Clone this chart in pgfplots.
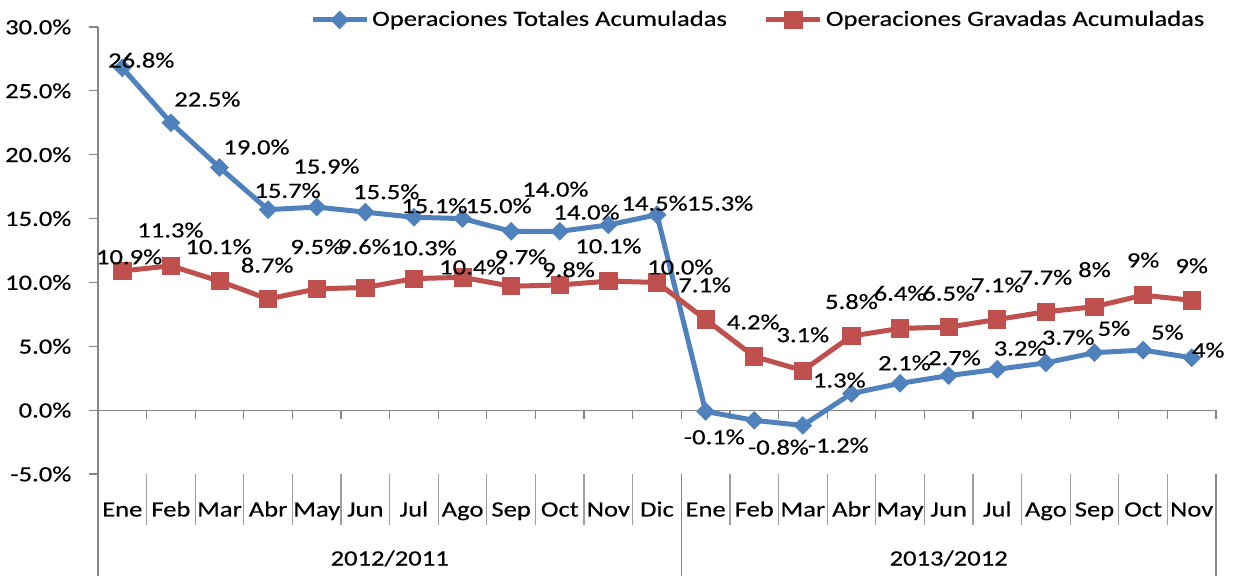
\documentclass[border=0pt]{standalone}
\usepackage{fontspec}
\setmainfont{Carlito}[FakeStretch=1.22, FakeBold=0.35]
\usepackage{pgfplots}
\pgfplotsset{compat=1.18}
\definecolor{sblue}{HTML}{4F81BD}
\definecolor{sred}{HTML}{C0504D}
\definecolor{axgray}{HTML}{868686}
\begin{document}
\fontsize{10.9pt}{12pt}\selectfont
\begin{tikzpicture}
\begin{axis}[
  name=ax,
  scale only axis,
  width=559pt, height=223.5pt,
  xmin=-0.5, xmax=22.5, ymin=-5, ymax=30,
  axis y line*=left,
  axis x line*=bottom,
  x axis line style={draw=none},
  y axis line style={axgray, line width=0.6pt, -},
  ytick={-5,0,5,10,15,20,25,30},
  yticklabels={-5.0\%,0.0\%,5.0\%,10.0\%,15.0\%,20.0\%,25.0\%,30.0\%},
  y tick style={axgray, line width=0.6pt},
  yticklabel style={anchor=east, xshift=-5pt},
  tick align=outside,
  major tick length=4.5pt,
  xtick={0,...,22},
  xticklabels={Ene,Feb,Mar,Abr,May,Jun,Jul,Ago,Sep,Oct,Nov,Dic,Ene,Feb,Mar,Abr,May,Jun,Jul,Ago,Sep,Oct,Nov},
  x tick style={draw=none},
  xticklabel style={anchor=base, yshift=-16.75pt},
  extra x ticks={5.5,17},
  extra x tick labels={2012/2011,2013/2012},
  extra x tick style={xticklabel style={yshift=-24.5pt}},
  clip=false,
  legend columns=2,
  legend style={at={(axis description cs:0.591,1.0157)}, anchor=center, draw=none, fill=none,
    inner sep=0pt, nodes={inner xsep=1.5pt, inner ysep=1pt},
    /tikz/every even column/.append style={column sep=17pt}},
  legend image code/.code={\draw[mark repeat=2,mark phase=2] plot coordinates {(0pt,0pt) (13.5pt,0pt) (27pt,0pt)};},
]
% axis decorations
\draw[axgray, line width=0.6pt] (axis cs:-0.5,0) -- (axis cs:22.5,0);
\pgfplotsinvokeforeach{0.5,1.5,...,22.5}{\draw[axgray, line width=0.6pt] (axis cs:#1,0) -- ([yshift=-4.5pt]axis cs:#1,0);}
\pgfplotsinvokeforeach{0.5,1.5,...,10.5,12.5,13.5,...,21.5}{\draw[axgray!80, line width=0.6pt] (axis cs:#1,-5) -- (axis cs:#1,-9);}
\draw[axgray, line width=0.6pt] (axis cs:-0.5,-5) -- (axis cs:-0.5,-13);
\draw[axgray, line width=0.6pt] (axis cs:11.5,-5) -- (axis cs:11.5,-13);
\draw[axgray, line width=0.6pt] (axis cs:22.5,-5) -- (axis cs:22.5,-13);

\addplot[sblue, line width=2.5pt, mark=square*, mark size=3.1pt,
  mark options={rotate=45, solid, fill=sblue, draw=sblue, line width=0.4pt}]
  table {
x y
0 26.8
1 22.5
2 19.0
3 15.7
4 15.9
5 15.5
6 15.1
7 15.0
8 14.0
9 14.0
10 14.5
11 15.3
12 -0.1
13 -0.8
14 -1.2
15 1.3
16 2.1
17 2.7
18 3.2
19 3.7
20 4.5
21 4.7
22 4.1
};
\addlegendentry{Operaciones Totales Acumuladas}

\addplot[sred, line width=2.5pt, mark=square*, mark size=4.3pt,
  mark options={solid, fill=sred, draw=sred, line width=0.4pt}]
  table {
x y
0 10.9
1 11.3
2 10.1
3 8.7
4 9.5
5 9.6
6 10.3
7 10.4
8 9.7
9 9.8
10 10.1
11 10.0
12 7.1
13 4.2
14 3.1
15 5.8
16 6.4
17 6.5
18 7.1
19 7.7
20 8.1
21 9.0
22 8.6
};
\addlegendentry{Operaciones Gravadas Acumuladas}

% data labels, blue series
\addplot[forget plot, only marks, mark=none, point meta=explicit symbolic,
  nodes near coords={\pgfplotspointmeta\%}, nodes near coords align=center,
  every node near coord/.append style={anchor=center, inner sep=0pt, text=black}]
  table[meta=l] {
x y l
0.39 27.4 26.8
1.75 24.35 22.5
2.76 20.6 19.0
3.40 17.2 15.7
4.2 19.1 15.9
5.43 17.1 15.5
6.42 16.0 15.1
7.74 16.0 15.0
8.91 17.3 14.0
9.55 15.5 14.0
10.95 16.2 14.5
12.3 16.2 15.3
12.18 -2.1 -0.1
13.5 -2.9 -0.8
14.73 -2.75 -1.2
14.75 2.35 1.3
16.09 3.7 2.1
17.12 4.1 2.7
18.47 4.85 3.2
19.46 5.7 3.7
20.4 6.4 5
21.5 6.1 5
22.34 4.7 4
};
% data labels, red series
\addplot[forget plot, only marks, mark=none, point meta=explicit symbolic,
  nodes near coords={\pgfplotspointmeta\%}, nodes near coords align=center,
  every node near coord/.append style={anchor=center, inner sep=0pt, text=black}]
  table[meta=l] {
x y l
0.14 12.0 10.9
0.99 14.1 11.3
1.98 12.8 10.1
2.98 11.35 8.7
4.0 12.8 9.5
4.98 12.8 9.6
6.2 12.7 10.3
7.2 11.2 10.4
8.2 12.0 9.7
9.18 11.0 9.8
10.0 12.85 10.1
11.48 11.2 10.0
11.98 9.8 7.1
12.98 6.9 4.2
14.0 5.9 3.1
15.0 8.5 5.8
16.0 9.15 6.4
17.0 9.15 6.5
18.0 9.8 7.1
19.0 10.4 7.7
20.0 11.0 8
21.0 11.75 9
22.0 11.3 9
};
\end{axis}
\pgfresetboundingbox
\path[use as bounding box] ([shift={(-49pt,-51pt)}]ax.south west) rectangle ([shift={(8.5pt,13.5pt)}]ax.north east);
\end{tikzpicture}
\end{document}
